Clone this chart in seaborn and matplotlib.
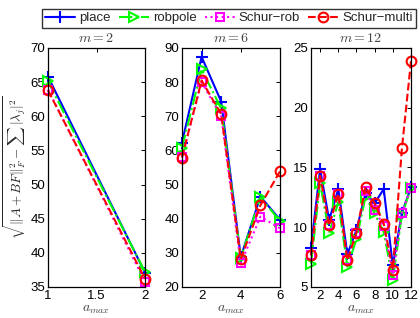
import numpy as np
import pandas as pd
import matplotlib
matplotlib.use("Agg")
import matplotlib.pyplot as plt
import seaborn as sns

# values
methods = ["place", "robpole", "Schur\u2212rob", "Schur\u2212multi"]

x_m2 = [1, 2]
place_m2 = [65.8, 37.1]
robpole_m2 = [65.1, 37.2]
schurrob_m2 = [63.9, 35.8]
schurmulti_m2 = [63.8, 36.2]

x_m6 = [1, 2, 3, 4, 5, 6]
place_m6 = [62.3, 87.4, 74.3, 28.8, 46.5, 39.7]
robpole_m6 = [60.8, 83.7, 72.3, 28.5, 46.3, 39.3]
schurrob_m6 = [58.0, 80.0, 70.0, 26.9, 40.6, 37.2]
schurmulti_m6 = [57.9, 80.5, 70.6, 28.2, 43.9, 53.9]

x_m12 = [1, 2, 3, 4, 5, 6, 7, 8, 9, 10, 11, 12]
place_m12 = [8.3, 14.85, 10.6, 13.2, 7.75, 9.75, 12.85, 12.0, 13.2, 6.8, 11.2, 13.35]
robpole_m12 = [6.96, 13.7, 9.5, 12.1, 6.7, 9.0, 12.55, 11.15, 9.6, 5.6, 11.0, 13.3]
schurrob_m12 = [7.64, 14.3, 10.15, 12.8, 7.25, 9.55, 13.0, 11.45, 10.1, 6.0, 11.2, 13.3]
schurmulti_m12 = [7.64, 14.3, 10.15, 12.8, 7.25, 9.55, 13.4, 12.0, 10.3, 6.46, 16.6, 23.9]

styles = {
    "place": dict(color=(0, 0, 1), linestyle="-", marker="+", markersize=8),
    "robpole": dict(color=(0, 1, 0), linestyle="-.", marker=">", markersize=7),
    "Schur\u2212rob": dict(color=(1, 0, 1), linestyle=":", marker="s", markersize=6),
    "Schur\u2212multi": dict(color=(1, 0, 0), linestyle="--", marker="o", markersize=7),
}

panels = [
    ("$m=2$", x_m2, [place_m2, robpole_m2, schurrob_m2, schurmulti_m2],
     (1, 2), [1, 1.5, 2], ["1", "1.5", "2"], (35, 70), np.arange(35, 71, 5)),
    ("$m=6$", x_m6, [place_m6, robpole_m6, schurrob_m6, schurmulti_m6],
     (1, 6), [2, 4, 6], ["2", "4", "6"], (20, 90), np.arange(20, 91, 10)),
    ("$m=12$", x_m12, [place_m12, robpole_m12, schurrob_m12, schurmulti_m12],
     (1, 12), [2, 4, 6, 8, 10, 12], ["2", "4", "6", "8", "10", "12"], (5, 25), np.arange(5, 26, 5)),
]

sns.set_style("white")
plt.rcParams["font.family"] = ["Liberation Sans", "DejaVu Sans"]
plt.rcParams["mathtext.fontset"] = "cm"

fig = plt.figure(figsize=(4.2, 3.18), dpi=100)
positions = [
    [48 / 420, 0.0975, 97 / 420, 0.7516],
    [182 / 420, 0.0975, 98 / 420, 0.7516],
    [311 / 420, 0.0975, 100 / 420, 0.7516],
]

grey = "#444444"
for pos, (title, xs, series, xlim, xt, xtl, ylim, yt) in zip(positions, panels):
    ax = fig.add_axes(pos)
    for name, ys in zip(methods, series):
        st = styles[name]
        sns.lineplot(x=xs, y=ys, ax=ax, label=name, legend=False,
                     color=st["color"], linestyle=st["linestyle"], linewidth=1.5,
                     marker=st["marker"], markersize=st["markersize"],
                     markerfacecolor="none", markeredgecolor=st["color"],
                     markeredgewidth=1.5, clip_on=False)
    ax.set_xlim(*xlim)
    ax.set_ylim(*ylim)
    ax.set_xticks(xt)
    ax.set_xticklabels(xtl)
    ax.set_yticks(yt)
    ax.tick_params(direction="in", top=True, right=True, length=3, width=0.7,
                   labelsize=9.5, pad=2, colors="black")
    for sp in ax.spines.values():
        sp.set_color("black")
        sp.set_linewidth(0.9)
    ax.set_title(title, fontsize=10, color=grey, pad=4)
    ax.set_xlabel("$a_{max}$", fontsize=10, color=grey, labelpad=0)
    ax.set_ylabel("")
    if title == "$m=2$":
        ax.set_ylabel(r"$\sqrt{\|A+BF\|_F^2-\sum\,|\lambda_j|^2}$", fontsize=9.5, labelpad=1)
        handles, labels = ax.get_legend_handles_labels()

leg = fig.legend(handles, labels, loc="upper center", bbox_to_anchor=(0.545, 0.972),
                 ncol=4, fontsize=9.5, frameon=True, fancybox=False,
                 handlelength=2.3, handletextpad=0.3, columnspacing=0.6,
                 borderpad=0.25, borderaxespad=0)
leg.get_frame().set_edgecolor("black")
leg.get_frame().set_linewidth(1.0)

fig.savefig("out.png", dpi=100)
